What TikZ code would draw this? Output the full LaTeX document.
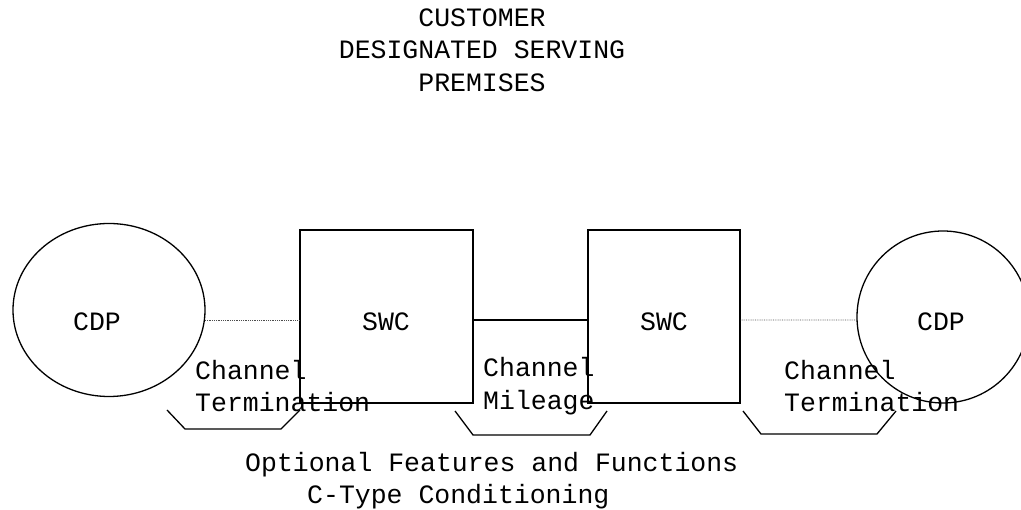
\documentclass[tikz,border=0pt]{standalone}
\usepackage{fontspec}
\setmonofont{Liberation Mono}
\usetikzlibrary{shapes.geometric}

\begin{document}
\begin{tikzpicture}[x=1pt,y=-1pt]
\tikzstyle{txt}=[inner sep=0pt, font=\ttfamily\fontsize{26.5}{32.5}\selectfont]
\tikzstyle{cdp}=[ellipse, draw, line width=1.3pt, inner sep=0pt]
\tikzstyle{swc}=[rectangle, draw, line width=1.3pt, inner sep=0pt,
                        minimum width=173pt, minimum height=173pt]
\tikzstyle{dotline}=[densely dotted, line width=0.8pt, black!70]
\tikzstyle{brk}=[line width=1.3pt]
\useasboundingbox (0,0) rectangle (1021,510);
	\node[txt, align=center] (T) at (482,50) {CUSTOMER\\DESIGNATED SERVING\\PREMISES};
	\node[cdp, minimum width=192pt, minimum height=173pt] (L) at (109,310){};
	\node[swc] (B1) at (386.5,316.5){};
	\node[swc, minimum width=152pt] (B2) at (664,316.5){};
	\node[cdp, minimum width=172pt, minimum height=172pt] (R) at (943,317){};
	\node[txt] (cl) at (97,322){CDP};
	\node[txt] (s1) at (386,322){SWC};
	\node[txt] (s2) at (664,322){SWC};
	\node[txt] (cr) at (941,322){CDP};
	\node[txt, align=left, anchor=west] (tl) at (195,386){Channel\\Termination};
	\node[txt, align=left, anchor=west] (tm) at (483,386){Channel\\Mileage};
	\node[txt, align=left, anchor=west] (tr) at (784,386){Channel\\Termination};
	\node[txt, anchor=west] (o1) at (245,465){Optional Features and Functions};
	\node[txt, anchor=west] (o2) at (307,497){C-Type Conditioning};
\draw[dotline] (L.-6) -- (L.-6 -| B1.west);
\draw[line width=1.3pt] ([yshift=-3.5pt]B1.east) -- ([yshift=-3.5pt]B2.west);
\draw[dotline] ([yshift=-3.5pt]B2.east) -- (R.182.3);
\draw[brk] (167,410) -- (185,429) -- (281,429) -- (300,410);
\draw[brk] (455,411) -- (473,435) -- (590,435) -- (607,411);
\draw[brk] (743,411) -- (761,434) -- (877,434) -- (896,411);
\end{tikzpicture}
\end{document}
